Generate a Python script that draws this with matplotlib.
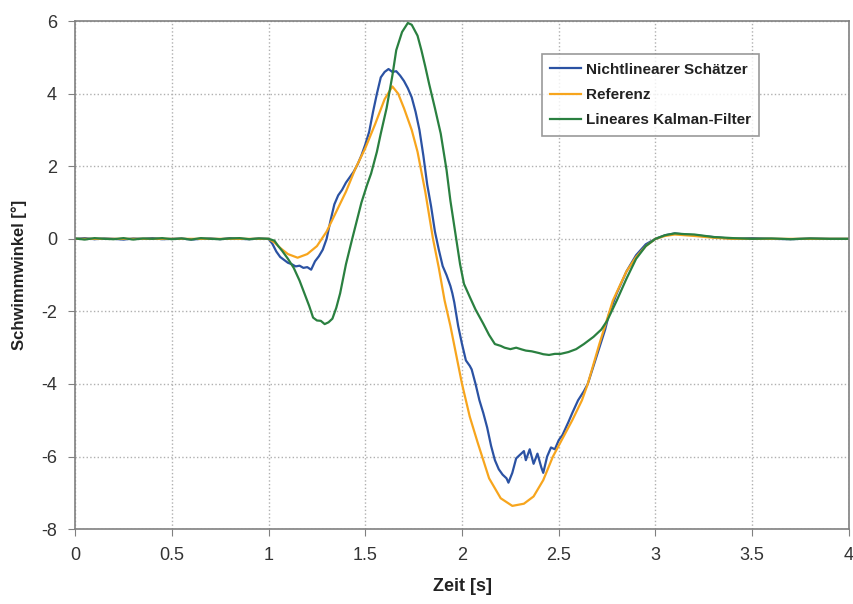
import matplotlib.pyplot as plt

plt.rcParams['font.family'] = ['Liberation Sans', 'DejaVu Sans']
plt.rcParams['axes.unicode_minus'] = False

# flat start (0 .. 1 s) shared time grid
t_flat = [0.0, 0.05, 0.1, 0.15, 0.2, 0.25, 0.3, 0.35, 0.4, 0.45, 0.5,
          0.55, 0.6, 0.65, 0.7, 0.75, 0.8, 0.85, 0.9, 0.95]

# Nichtlinearer Schaetzer
t_nl = t_flat + [1.0, 1.02, 1.04, 1.06, 1.08, 1.1, 1.12, 1.14, 1.16, 1.18, 1.2,
                 1.22, 1.24, 1.26, 1.28, 1.3, 1.32, 1.34, 1.36, 1.38, 1.40, 1.42,
                 1.44, 1.46, 1.48, 1.50, 1.52, 1.54, 1.56, 1.58, 1.60, 1.62, 1.64,
                 1.66, 1.68, 1.70, 1.72, 1.74, 1.76, 1.78, 1.80, 1.82, 1.84, 1.86,
                 1.88, 1.90, 1.92, 1.94, 1.95, 1.96, 1.98, 2.0, 2.02, 2.04, 2.05,
                 2.07, 2.09, 2.11, 2.13, 2.15, 2.17, 2.19, 2.21, 2.23, 2.24, 2.26,
                 2.28, 2.30, 2.32, 2.33, 2.35, 2.37, 2.39, 2.41, 2.42, 2.44, 2.46,
                 2.48, 2.50, 2.52, 2.55, 2.57, 2.60, 2.63, 2.65, 2.68, 2.71, 2.74,
                 2.76, 2.8, 2.85, 2.9, 2.95, 3.0, 3.05, 3.1, 3.15, 3.2, 3.3, 3.4,
                 3.5, 3.6, 3.7, 3.8, 3.9, 4.0]
v_nl = [0.0, 0.02, -0.01, 0.01, 0.0, -0.02, 0.01, 0.0, 0.02, -0.01, 0.0,
        0.01, -0.02, 0.0, 0.01, -0.01, 0.02, 0.0, -0.01, 0.01,
        0.0, -0.14, -0.35, -0.5, -0.58, -0.66, -0.7, -0.76, -0.74, -0.8, -0.78,
        -0.85, -0.62, -0.48, -0.3, 0.0, 0.5, 0.95, 1.2, 1.35, 1.55, 1.7,
        1.85, 2.05, 2.3, 2.6, 2.95, 3.5, 4.0, 4.45, 4.6, 4.68, 4.6,
        4.62, 4.5, 4.35, 4.15, 3.9, 3.5, 3.0, 2.3, 1.5, 0.9, 0.2,
        -0.3, -0.75, -1.0, -1.3, -1.5, -1.75, -2.4, -2.9, -3.35, -3.5, -3.6,
        -4.0, -4.45, -4.8, -5.2, -5.7, -6.1, -6.35, -6.5, -6.6, -6.72, -6.45,
        -6.05, -5.95, -5.85, -6.1, -5.8, -6.2, -5.92, -6.3, -6.45, -6.0, -5.75,
        -5.8, -5.55, -5.4, -5.05, -4.8, -4.45, -4.2, -4.0, -3.5, -3.0, -2.5,
        -2.07, -1.5, -0.9, -0.45, -0.15, 0.0, 0.1, 0.15, 0.12, 0.1, 0.05, 0.0,
        0.02, 0.0, -0.01, 0.01, 0.0, 0.0]

# Referenz
t_ref = t_flat + [1.0, 1.03, 1.06, 1.1, 1.15, 1.2, 1.25, 1.3, 1.35, 1.4, 1.45,
                  1.5, 1.55, 1.6, 1.64, 1.67, 1.7, 1.74, 1.77, 1.81, 1.85, 1.88,
                  1.91, 1.94, 1.97, 2.0, 2.04, 2.08, 2.14, 2.2, 2.26, 2.32, 2.37,
                  2.42, 2.47, 2.52, 2.57, 2.62, 2.65, 2.71, 2.78, 2.85, 2.9, 2.95,
                  3.0, 3.05, 3.1, 3.2, 3.3, 3.4, 3.6, 3.8, 4.0]
v_ref = [0.0] * 20 + [0.0, -0.1, -0.25, -0.42, -0.52, -0.42, -0.2, 0.2, 0.75, 1.3, 1.95,
                      2.5, 3.15, 3.85, 4.2, 4.0, 3.6, 3.0, 2.4, 1.3, 0.0, -0.8,
                      -1.7, -2.4, -3.2, -4.0, -4.9, -5.6, -6.6, -7.15, -7.36, -7.3, -7.1,
                      -6.65, -6.0, -5.5, -5.0, -4.45, -4.0, -2.9, -1.7, -0.9, -0.5, -0.2,
                      0.0, 0.08, 0.12, 0.08, 0.03, 0.0, 0.0, 0.0, 0.0]

# Lineares Kalman-Filter
t_kf = t_flat + [1.0, 1.03, 1.05, 1.07, 1.1, 1.13, 1.16, 1.18, 1.21, 1.23, 1.25,
                 1.27, 1.29, 1.31, 1.33, 1.35, 1.37, 1.40, 1.43, 1.46, 1.48, 1.51,
                 1.53, 1.56, 1.58, 1.61, 1.64, 1.66, 1.69, 1.72, 1.74, 1.77, 1.79,
                 1.81, 1.83, 1.86, 1.89, 1.92, 1.94, 1.97, 1.99, 2.01, 2.04, 2.07,
                 2.11, 2.14, 2.17, 2.2, 2.22, 2.25, 2.28, 2.31, 2.33, 2.36, 2.4,
                 2.42, 2.45, 2.48, 2.51, 2.55, 2.59, 2.63, 2.68, 2.72, 2.75, 2.8,
                 2.85, 2.9, 2.95, 3.0, 3.05, 3.1, 3.15, 3.2, 3.3, 3.4, 3.5, 3.6,
                 3.7, 3.8, 3.9, 4.0]
v_kf = [0.01, -0.02, 0.02, 0.0, -0.01, 0.02, -0.02, 0.01, 0.0, 0.02, -0.01,
        0.01, -0.02, 0.02, 0.0, -0.01, 0.01, 0.02, -0.01, 0.01,
        0.0, -0.05, -0.2, -0.33, -0.55, -0.8, -1.15, -1.43, -1.85, -2.17, -2.25,
        -2.26, -2.35, -2.3, -2.2, -1.9, -1.5, -0.7, -0.05, 0.58, 1.0, 1.5,
        1.8, 2.4, 2.9, 3.6, 4.5, 5.2, 5.7, 5.95, 5.9, 5.6, 5.2,
        4.75, 4.27, 3.6, 2.9, 1.9, 1.05, 0.0, -0.7, -1.24, -1.6, -1.95,
        -2.34, -2.65, -2.9, -2.95, -3.0, -3.04, -3.0, -3.05, -3.08, -3.1, -3.15,
        -3.18, -3.2, -3.17, -3.17, -3.12, -3.04, -2.9, -2.7, -2.5, -2.26, -1.7,
        -1.1, -0.55, -0.2, 0.0, 0.1, 0.15, 0.13, 0.12, 0.05, 0.02, 0.0, 0.01,
        -0.01, 0.01, 0.0, 0.0]

labels = ['Nichtlinearer Schätzer', 'Referenz', 'Lineares Kalman-Filter']
colors = ['#2b52a3', '#f7a51d', '#2a8040']

fig = plt.figure(figsize=(8.54, 6.04), dpi=100)
ax = fig.add_axes([0.088, 0.124, 0.906, 0.841])

ax.plot(t_nl, v_nl, color=colors[0], lw=1.6, label=labels[0])
ax.plot(t_ref, v_ref, color=colors[1], lw=1.6, label=labels[1])
ax.plot(t_kf, v_kf, color=colors[2], lw=1.6, label=labels[2])

ax.set_xlim(0, 4)
ax.set_ylim(-8, 6)
ax.set_xticks([0, 0.5, 1, 1.5, 2, 2.5, 3, 3.5, 4])
ax.set_xticklabels(['0', '0.5', '1', '1.5', '2', '2.5', '3', '3.5', '4'])
ax.set_yticks([-8, -6, -4, -2, 0, 2, 4, 6])
ax.grid(True, linestyle=':', color='#b0b0b0', lw=1)
for s in ax.spines.values():
    s.set_color('#808080')
    s.set_linewidth(1.2)
ax.tick_params(direction='out', length=5, color='#808080', labelsize=13,
               labelcolor='#333333', pad=8)

ax.set_xlabel('Zeit [s]', fontsize=13, fontweight='bold', color='#222222', labelpad=10)
ax.set_ylabel('Schwimmwinkel [°]', fontsize=12, fontweight='bold', color='#222222', labelpad=10)

leg = ax.legend(loc='upper left', bbox_to_anchor=(0.603, 0.935), borderaxespad=0,
                prop={'size': 11, 'weight': 'bold'},
                frameon=True, fancybox=False, edgecolor='#808080', handlelength=2.0,
                borderpad=0.55, labelspacing=0.75, handletextpad=0.35)
leg.get_frame().set_linewidth(1.2)
for txt in leg.get_texts():
    txt.set_color('#222222')

plt.savefig('out.png', dpi=100)
plt.close()
